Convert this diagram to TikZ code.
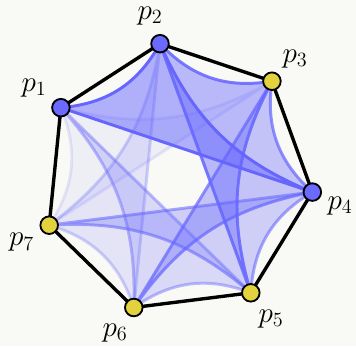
\documentclass[tikz,border=0pt]{standalone}
\usepackage{tikz}
\definecolor{paper}{RGB}{249,249,245}
\definecolor{faceblue}{RGB}{102,102,255}
\definecolor{vtxblue}{RGB}{106,106,255}
\definecolor{vtxyellow}{RGB}{226,210,62}
\pgfdeclarelayer{back}
\pgfsetlayers{back,main}
\tikzset{
  vtx/.style={circle, draw=black, line width=1.3pt, minimum size=0.44cm, inner sep=0pt},
  bluevtx/.style={vtx, fill=vtxblue},
  yellowvtx/.style={vtx, fill=vtxyellow},
  vlabel/.style={font=\huge, inner sep=0pt},
  rim/.style={line width=2.4pt, draw=black, line join=round},
  face/.style 2 args={fill=faceblue, fill opacity=#1, draw=faceblue, draw opacity=#2,
    line width=2.1pt, line join=round},
}

\begin{document}
\begin{tikzpicture}
\useasboundingbox (0,0) rectangle (8.9,8.65);
\node[bluevtx] (p1) at (1.523,5.958) {};
\node[bluevtx] (p2) at (4.000,7.558) {};
\node[yellowvtx] (p3) at (6.798,6.620) {};
\node[bluevtx] (p4) at (7.808,3.848) {};
\node[yellowvtx] (p5) at (6.270,1.330) {};
\node[yellowvtx] (p6) at (3.345,0.963) {};
\node[yellowvtx] (p7) at (1.230,3.020) {};
\node[vlabel] (l1) at (0.850,6.450) {$p_1$};
\node[vlabel] (l2) at (3.750,8.260) {$p_2$};
\node[vlabel] (l3) at (7.375,7.175) {$p_3$};
\node[vlabel] (l4) at (8.500,3.500) {$p_4$};
\node[vlabel] (l5) at (6.775,0.675) {$p_5$};
\node[vlabel] (l6) at (2.875,0.335) {$p_6$};
\node[vlabel] (l7) at (0.538,2.588) {$p_7$};
\begin{pgfonlayer}{back}
\fill[paper] (0,0) rectangle (8.9,8.65);
\draw[rim] (p1.center) -- (p2.center) -- (p3.center) -- (p4.center)
  -- (p5.center) -- (p6.center) -- (p7.center) -- cycle;
% faces {k,k+1,k+3}, faintest first
\draw[face={0.07}{0.14}] (p7.center) to[bend right=28] (p1.center) to[bend right=22] (p3.center) -- cycle;
\draw[face={0.14}{0.29}] (p6.center) to[bend right=28] (p7.center) to[bend right=22] (p2.center) -- cycle;
\draw[face={0.21}{0.43}] (p5.center) to[bend right=28] (p6.center) to[bend right=22] (p1.center) -- cycle;
\draw[face={0.29}{0.57}] (p4.center) to[bend right=28] (p5.center) to[bend right=22] (p7.center) -- cycle;
\draw[face={0.36}{0.71}] (p3.center) to[bend right=28] (p4.center) to[bend right=22] (p6.center) -- cycle;
\draw[face={0.43}{0.86}] (p2.center) to[bend right=28] (p3.center) to[bend right=22] (p5.center) -- cycle;
\draw[face={0.5}{1}] (p1.center) to[bend right=28] (p2.center) to[bend right=22] (p4.center) -- cycle;
\end{pgfonlayer}
\end{tikzpicture}
\end{document}
